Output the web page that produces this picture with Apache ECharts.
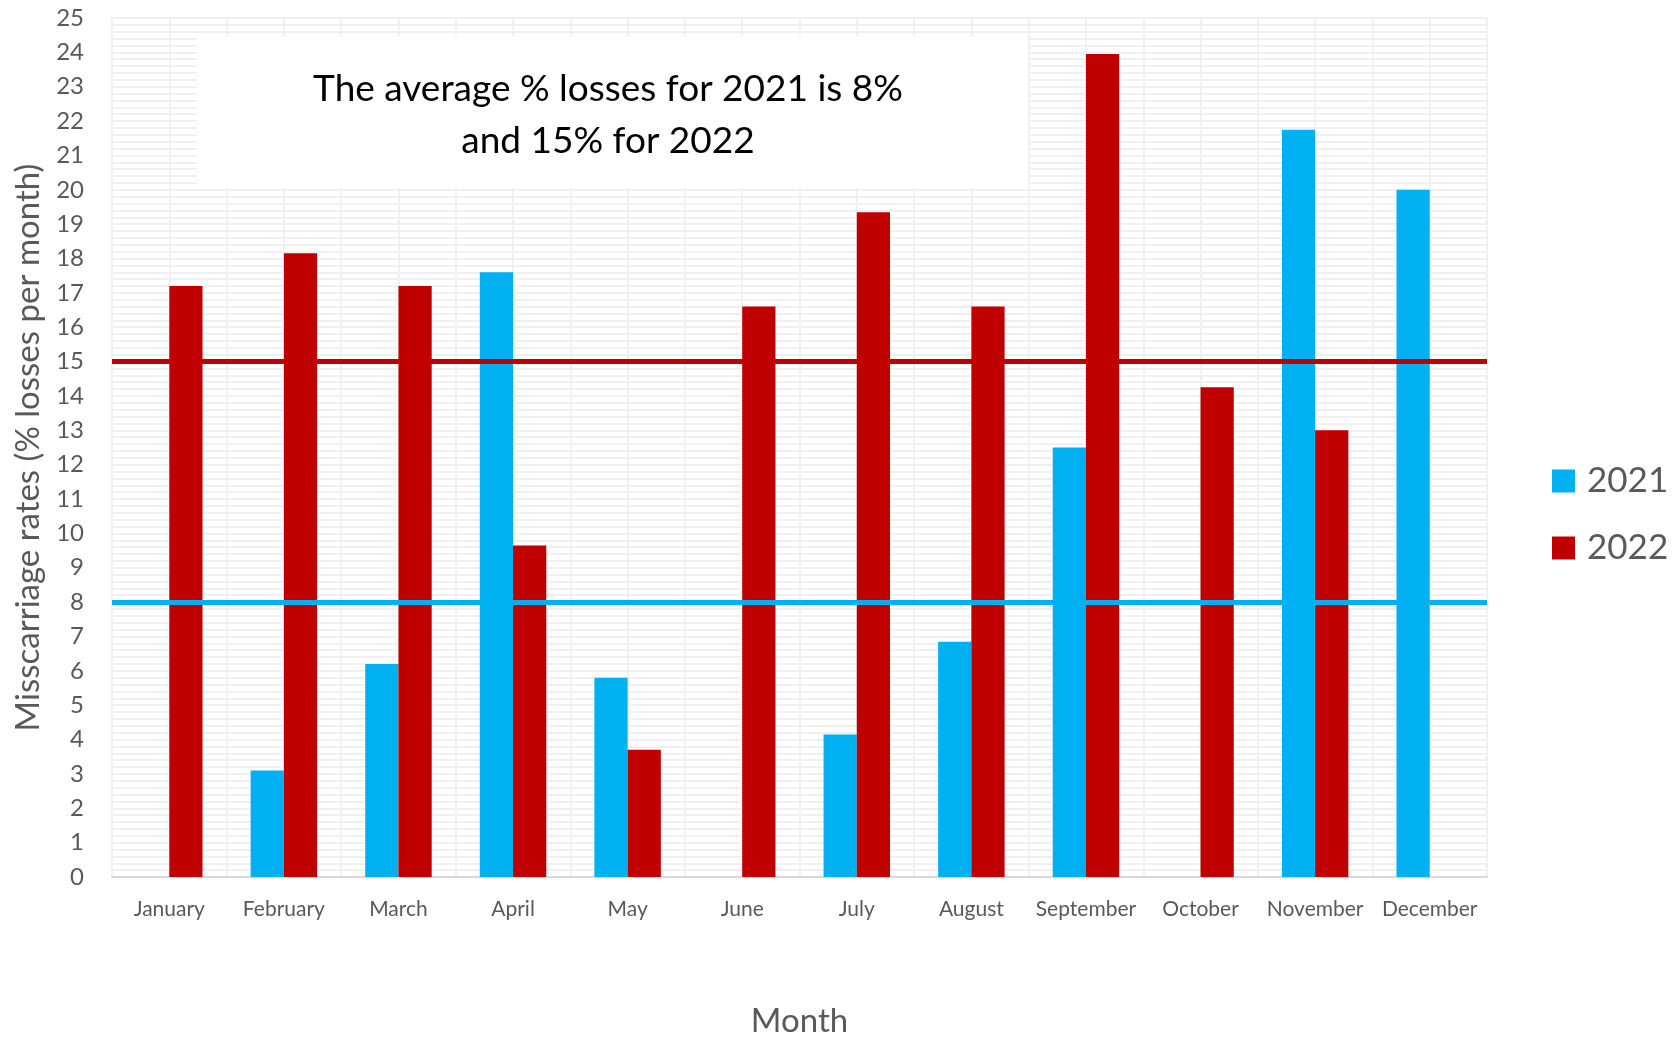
<!DOCTYPE html>
<html>
<head>
<meta charset="utf-8">
<script src="https://cdn.jsdelivr.net/npm/echarts@6/dist/echarts.min.js"></script>
<style>
html,body{margin:0;padding:0;background:#fff;}
#chart{width:1674px;height:1043px;}
</style>
</head>
<body>
<div id="chart"></div>
<script>
const months = ['January','February','March','April','May','June','July','August','September','October','November','December'];
const values2021 = [0, 3.1, 6.2, 17.6, 5.8, 0, 4.15, 6.85, 12.5, 0, 21.75, 20];
const values2022 = [17.2, 18.15, 17.2, 9.65, 3.7, 16.6, 19.35, 16.6, 23.95, 14.25, 13.0, 0];
const average2021 = 8;
const average2022 = 15;
const seriesNames = ['2021', '2022'];
const yTicksMax = 25;

const FONT = 'Lato';
const gridColor = '#f0f0f0';
const blue = '#00B0F0';
const red = '#C00000';

const chart = echarts.init(document.getElementById('chart'));
chart.setOption({
  animation: false,
  backgroundColor: '#fff',
  textStyle: { fontFamily: FONT },
  grid: { left: 112, right: 187, top: 18, bottom: 159, containLabel: false },
  legend: {
    orient: 'vertical',
    left: 1547,
    top: 456,
    itemWidth: 23,
    itemHeight: 23,
    itemGap: 27,
    icon: 'rect',
    data: seriesNames,
    textStyle: { fontFamily: FONT, fontSize: 35, color: '#595959', lineHeight: 40, padding: [0,0,0,7] }
  },
  xAxis: [
    {
      type: 'category',
      data: months,
      axisLine: { lineStyle: { color: '#d9d9d9', width: 2 } },
      axisTick: { show: false },
      splitLine: { show: false },
      axisLabel: { interval: 0, fontFamily: FONT, fontSize: 21, color: '#595959', margin: 22 },
      name: 'Month',
      nameLocation: 'middle',
      nameGap: 128,
      nameTextStyle: { fontFamily: FONT, fontSize: 33, color: '#595959' }
    },
    {
      type: 'value',
      position: 'top',
      min: 0,
      max: months.length * 2,
      interval: 1,
      axisLine: { show: false },
      axisTick: { show: false },
      axisLabel: { show: false },
      splitLine: { show: true, lineStyle: { color: gridColor, width: 2 } }
    }
  ],
  yAxis: {
    type: 'value',
    min: 0,
    max: yTicksMax,
    interval: 1,
    axisLine: { show: false },
    axisTick: { show: false },
    axisLabel: { fontFamily: FONT, fontSize: 24, color: '#595959', margin: 28 },
    splitLine: { show: true, lineStyle: { color: gridColor, width: 2 } },
    minorTick: { show: false, splitNumber: 5 },
    minorSplitLine: { show: true, lineStyle: { color: gridColor, width: 2 } },
    name: 'Misscarriage rates (% losses per month)',
    nameLocation: 'middle',
    nameGap: 64,
    nameTextStyle: { fontFamily: FONT, fontSize: 33, color: '#595959' }
  },
  graphic: {
    elements: [
      {
        type: 'rect',
        z: 1,
        shape: { x: 197, y: 36, width: 831, height: 152 },
        style: { fill: '#ffffff' }
      },
      {
        type: 'text',
        z: 2,
        x: 608,
        y: 115,
        style: {
          text: 'The average % losses for 2021 is 8%\nand 15% for 2022',
          fontFamily: FONT,
          fontSize: 37,
          lineHeight: 52,
          fill: '#000000',
          align: 'center',
          verticalAlign: 'middle'
        }
      }
    ]
  },
  series: [
    {
      name: seriesNames[0],
      type: 'bar',
      data: values2021,
      barGap: '0%',
      barCategoryGap: '42%',
      itemStyle: { color: blue },
      markLine: {
        silent: true,
        symbol: 'none',
        z: 10,
        label: { show: false },
        lineStyle: { color: blue, width: 5, type: 'solid' },
        data: [{ yAxis: average2021 }]
      }
    },
    {
      name: seriesNames[1],
      type: 'bar',
      data: values2022,
      barGap: '0%',
      barCategoryGap: '42%',
      itemStyle: { color: red },
      markLine: {
        silent: true,
        symbol: 'none',
        z: 10,
        label: { show: false },
        lineStyle: { color: red, width: 5, type: 'solid' },
        data: [{ yAxis: average2022 }]
      }
    }
  ]
});
</script>
</body>
</html>
